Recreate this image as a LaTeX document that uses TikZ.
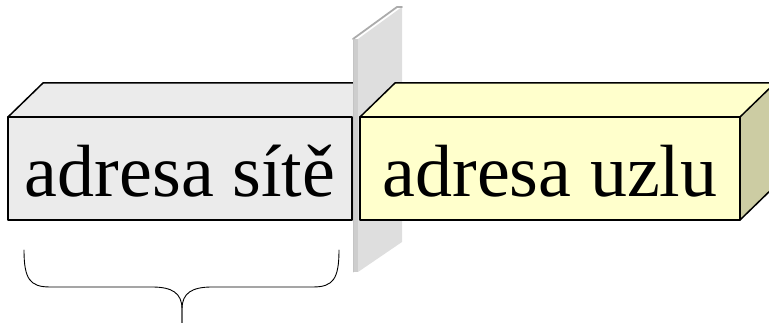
\documentclass[tikz,border=0pt]{standalone}
\usepackage{fontspec}
\setmainfont{Liberation Serif}
\definecolor{ebebeb}{rgb}{0.92,0.92,0.92}
\definecolor{ffffcc}{rgb}{1,1,0.8}
\definecolor{ccccaa}{rgb}{0.8,0.8,0.64}
\definecolor{dddddd}{rgb}{0.87,0.87,0.87}
\definecolor{aaaaaa}{rgb}{0.67,0.67,0.67}

\begin{document}
\begin{tikzpicture}[line cap=round,line join=round,x=1pt,y=1pt]
        \clip (0,0) rectangle (769,323);
        % levy kvadr
        \fill[color=ebebeb] (8,103) -- (8,206) -- (43,240) -- (387,240) -- (387,137) -- (352,103) -- cycle;
        \draw[line width=1.5pt] (8,103) rectangle (352,206);
        \draw[line width=1.5pt] (8,206) -- (43,240) -- (387,240);
        \node[anchor=base] (site) at (180,126) {\fontsize{74}{80}\selectfont adresa sítě};
        % rovina
        \fill[color=dddddd] (358,51) -- (358,284) -- (402,316) -- (402,81) -- cycle;
        \fill[color=aaaaaa!60] (353,51) rectangle (358,284);
        \draw[color=aaaaaa,line width=1.8pt] (353,284) -- (397,316) -- (402,316);
        \draw[color=aaaaaa!70,line width=0.8pt] (353,51) -- (353,284);
        % pravy kvadr
        \fill[color=ffffcc] (360,206) -- (395,240) -- (775,240) -- (740,206) -- cycle;
        \fill[color=ffffcc] (360,103) rectangle (740,206);
        \fill[color=ccccaa] (740,103) -- (775,137) -- (775,240) -- (740,206) -- cycle;
        \draw[line width=1.5pt] (360,103) rectangle (740,206);
        \draw[line width=1.5pt] (360,206) -- (395,240) -- (775,240);
        \draw[line width=1.5pt] (740,206) -- (775,240);
        \draw[line width=1.5pt] (740,103) -- (775,137);
        \node[anchor=base] (uzel) at (550,126) {\fontsize{74}{80}\selectfont adresa uzlu};
        % zavorka
        \draw[line width=0.9pt] (24,73) .. controls (24,44) and (30,36) .. (50,36) -- (152,36)
            .. controls (172,36) and (182,30) .. (182,14) -- (182,0);
        \draw[line width=0.9pt] (339,73) .. controls (339,44) and (333,36) .. (313,36) -- (212,36)
            .. controls (192,36) and (182,30) .. (182,14) -- (182,0);
    \end{tikzpicture}
\end{document}
